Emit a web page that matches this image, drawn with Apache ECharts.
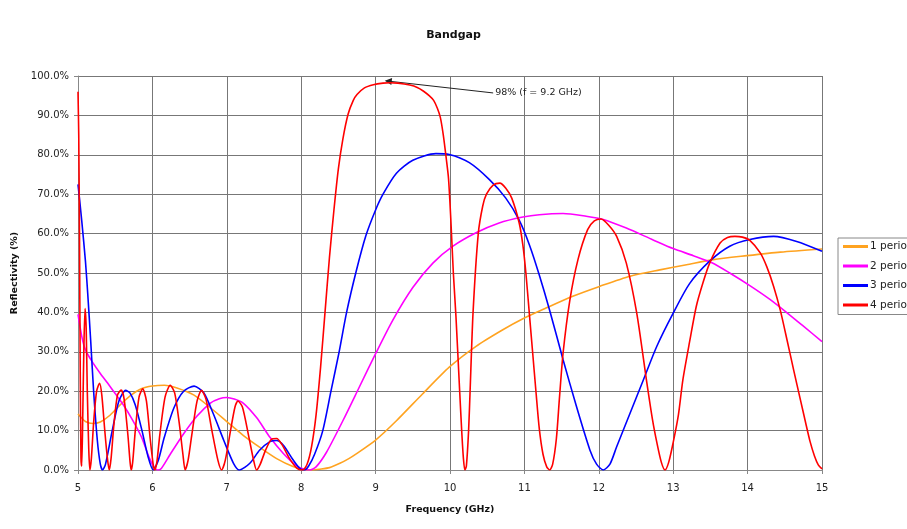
<!DOCTYPE html>
<html>
<head>
<meta charset="utf-8">
<script src="https://cdn.jsdelivr.net/npm/echarts@6/dist/echarts.min.js"></script>
<style>
html,body{margin:0;padding:0;background:#fff;}
#chart{width:907px;height:529px;}
</style>
</head>
<body>
<div id="chart"></div>
<script>
// ---- Data: [frequency GHz, reflectivity %] ----
const seriesNames = ['1 period', '2 periods', '3 periods', '4 periods'];

const period1 = [[5.00,14.2],[5.10,12.3],[5.20,11.8],[5.30,12.2],[5.43,13.9],[5.56,16.4],[5.70,18.8],[5.85,20.6],[6.00,21.3],[6.16,21.5],[6.33,20.8],[6.56,19.0],[6.78,15.8],[7.00,12.3],[7.22,8.8],[7.44,5.8],[7.67,2.9],[7.89,0.9],[8.05,0.1],[8.15,0.0],[8.25,0.2],[8.38,0.6],[8.52,1.7],[8.64,2.9],[8.74,4.1],[9.00,7.6],[9.28,12.5],[9.63,19.3],[9.99,26.1],[10.35,31.4],[10.71,35.6],[10.98,38.4],[11.29,41.1],[11.65,44.1],[12.01,46.6],[12.42,49.2],[12.82,50.8],[13.18,52.1],[13.54,53.4],[13.99,54.4],[14.44,55.3],[15.00,56.1]];

const period2 = [[5.00,39.5],[5.05,34.0],[5.10,30.5],[5.19,27.5],[5.30,24.5],[5.40,22.0],[5.50,19.4],[5.60,16.8],[5.73,12.8],[5.85,8.5],[5.96,3.0],[6.02,0.8],[6.07,0.0],[6.12,0.4],[6.24,4.0],[6.42,9.2],[6.60,13.7],[6.78,17.0],[6.90,18.1],[7.00,18.4],[7.10,18.0],[7.22,17.0],[7.40,13.3],[7.58,8.3],[7.76,4.2],[7.93,1.2],[8.05,0.1],[8.11,0.0],[8.20,0.8],[8.34,4.5],[8.56,12.5],[8.78,21.0],[9.01,29.9],[9.23,38.0],[9.50,46.3],[9.77,52.5],[10.04,56.8],[10.35,60.2],[10.66,62.7],[10.98,64.2],[11.20,64.8],[11.52,65.1],[11.83,64.4],[12.06,63.6],[12.37,61.4],[12.73,58.4],[13.00,56.2],[13.27,54.4],[13.52,52.6],[13.76,50.0],[14.03,46.8],[14.30,43.3],[14.53,39.9],[14.75,36.5],[15.00,32.6]];

const period3 = [[5.00,72.5],[5.05,63.3],[5.10,53.0],[5.13,45.0],[5.17,33.0],[5.21,20.0],[5.26,7.5],[5.30,1.5],[5.33,0.0],[5.37,1.5],[5.46,10.0],[5.55,17.5],[5.64,20.2],[5.70,19.5],[5.77,16.5],[5.86,10.0],[5.94,3.5],[6.01,0.0],[6.08,2.5],[6.16,8.3],[6.29,15.8],[6.42,20.0],[6.56,21.3],[6.69,19.6],[6.82,14.2],[6.96,7.5],[7.09,1.7],[7.17,0.0],[7.31,1.7],[7.44,5.0],[7.58,7.2],[7.67,7.5],[7.76,6.3],[7.89,2.6],[7.98,0.4],[8.04,0.0],[8.10,1.0],[8.18,4.0],[8.29,10.0],[8.40,20.0],[8.51,30.0],[8.61,40.0],[8.74,50.5],[8.87,59.5],[9.00,66.0],[9.10,70.0],[9.28,75.3],[9.50,78.6],[9.81,80.3],[9.99,80.1],[10.26,78.0],[10.53,73.7],[10.75,69.0],[10.93,63.4],[11.07,57.0],[11.20,49.5],[11.34,40.5],[11.52,28.0],[11.70,16.1],[11.88,5.1],[11.97,1.5],[12.06,0.0],[12.15,1.5],[12.24,5.9],[12.42,14.4],[12.60,22.9],[12.78,31.4],[13.00,39.8],[13.22,47.3],[13.49,53.0],[13.76,56.8],[14.03,58.5],[14.35,59.3],[14.66,58.0],[15.00,55.5]];

const period4 = [[5.000,96],[5.010,85],[5.020,60],[5.030,25],[5.040,3],[5.050,1],[5.065,15],[5.080,32],[5.095,41],[5.110,36],[5.125,20],[5.145,5],[5.160,0],[5.180,3],[5.210,12],[5.250,20],[5.290,22],[5.320,19],[5.360,10],[5.395,3],[5.420,0],[5.445,3],[5.480,11],[5.530,19],[5.580,20.3],[5.620,18],[5.670,9],[5.700,2],[5.715,0],[5.735,2],[5.770,10],[5.820,18.5],[5.870,20.6],[5.920,17.5],[5.970,8],[6.010,1.5],[6.030,0],[6.060,2],[6.100,9],[6.170,18.5],[6.240,21.5],[6.300,19.5],[6.360,12],[6.410,4],[6.440,0],[6.480,2.5],[6.530,9],[6.600,17.5],[6.660,20.2],[6.720,18],[6.800,10],[6.880,2.5],[6.930,0],[6.980,2.5],[7.050,10],[7.110,16],[7.150,17.5],[7.210,16],[7.290,9],[7.360,2.5],[7.400,0],[7.450,1.5],[7.520,5],[7.600,7.8],[7.670,8.0],[7.740,6.5],[7.840,3],[7.940,0.5],[8.020,0],[8.080,1.5],[8.140,6],[8.200,14],[8.260,26],[8.320,40],[8.380,54],[8.440,66],[8.500,76.5],[8.560,84],[8.630,90.3],[8.700,93.8],[8.750,95.3],[8.850,97],[8.970,97.8],[9.100,98.2],[9.190,98.3],[9.300,98.2],[9.460,97.7],[9.560,97.1],[9.640,96.2],[9.720,95],[9.780,93.8],[9.830,91.8],[9.870,89.5],[9.910,85],[9.950,79],[9.980,74],[10.010,64],[10.045,50],[10.080,39],[10.130,20],[10.160,9],[10.180,3],[10.200,0],[10.220,1],[10.250,10],[10.270,20],[10.310,40],[10.380,60],[10.440,67],[10.490,70],[10.580,72.3],[10.670,72.8],[10.750,71.5],[10.830,69],[10.930,62.7],[10.980,57],[11.020,50],[11.065,40],[11.110,30],[11.155,20],[11.200,10.5],[11.250,4],[11.300,0.8],[11.340,0],[11.380,1.5],[11.430,8],[11.470,18],[11.520,29.7],[11.610,43],[11.720,53.4],[11.850,61],[11.940,63.2],[12.030,63.7],[12.130,62.2],[12.240,59.3],[12.370,52.5],[12.510,39.8],[12.640,22.9],[12.720,13],[12.780,7],[12.840,2],[12.890,0],[12.940,2],[13.000,7],[13.070,14],[13.130,22.9],[13.220,32.5],[13.310,41.5],[13.400,47.5],[13.490,52.5],[13.630,57.6],[13.730,59],[13.830,59.3],[13.930,59.1],[14.030,58.3],[14.170,55.1],[14.260,51.5],[14.350,46.6],[14.440,40.5],[14.530,33],[14.620,25.3],[14.710,17.8],[14.780,12],[14.840,7.2],[14.900,3.5],[14.950,1.3],[15.000,0.3]];

const xRange = [5, 15];          // GHz
const yRange = [0, 100];         // %
const annotationText = '98% (f = 9.2 GHz)';
const annotationFrom = [10.58, 95.7];   // text anchor / arrow tail
const annotationTo = [9.17, 98.7];      // arrow head (peak of 4 periods)

// ---- Chart ----
const colors = ['#FFA320', '#FF00FF', '#0000FF', '#FF0000'];
const allData = [period1, period2, period3, period4];
const FONT = 'DejaVu Sans';

const chart = echarts.init(document.getElementById('chart'), null, {renderer: 'canvas'});

const series = allData.map((d, i) => ({
  name: seriesNames[i],
  type: 'line',
  data: d,
  showSymbol: false,
  symbol: 'none',
  smooth: 0.25,
  lineStyle: {color: colors[i], width: 1.6},
  itemStyle: {color: colors[i]},
  z: 2 + i,
  animation: false
}));

// annotation arrow drawn as its own helper series (no legend entry)
series.push({
  name: 'annotation',
  type: 'line',
  data: [],
  silent: true,
  z: 10,
  animation: false,
  markLine: {
    silent: true,
    symbol: ['none', 'triangle'],
    symbolSize: 7,
    symbolOffset: [0, 0],
    label: {show: false},
    lineStyle: {color: '#222', width: 1, type: 'solid'},
    itemStyle: {color: '#111'},
    data: [[{coord: annotationFrom}, {coord: annotationTo}]],
    animation: false
  },
  markPoint: {
    silent: true,
    symbol: 'circle',
    symbolSize: 0,
    data: [{coord: annotationFrom}],
    label: {
      show: true, position: 'right', distance: 2,
      formatter: annotationText,
      color: '#222', fontFamily: FONT, fontSize: 9.5
    },
    animation: false
  }
});

chart.setOption({
  backgroundColor: '#ffffff',
  animation: false,
  title: {
    text: 'Bandgap', left: 'center', top: 25,
    textStyle: {fontFamily: FONT, fontSize: 11, fontWeight: 'bold', color: '#111'}
  },
  legend: {
    orient: 'vertical', left: 838, top: 238,
    data: seriesNames,
    icon: 'rect', itemWidth: 25, itemHeight: 3, itemGap: 8.5,
    padding: [3, 5, 4, 5],
    borderColor: '#888', borderWidth: 1, backgroundColor: '#fff',
    textStyle: {fontFamily: FONT, fontSize: 10.5, color: '#222', lineHeight: 10, padding: [0, 0, 0, -3]}
  },
  grid: {left: 78, right: 85, top: 76, bottom: 59, containLabel: false},
  xAxis: {
    type: 'value', min: xRange[0], max: xRange[1], interval: 1,
    name: 'Frequency (GHz)', nameLocation: 'middle', nameGap: 35,
    nameTextStyle: {fontFamily: FONT, fontSize: 9.5, fontWeight: 'bold', color: '#111'},
    axisLine: {show: true, onZero: false, lineStyle: {color: '#888', width: 1}},
    axisTick: {show: true, length: 4, lineStyle: {color: '#888'}},
    axisLabel: {fontFamily: FONT, fontSize: 10, color: '#222', margin: 13},
    splitLine: {show: true, lineStyle: {color: '#777', width: 1}}
  },
  yAxis: {
    type: 'value', min: yRange[0], max: yRange[1], interval: 10,
    name: 'Reflectivity (%)', nameLocation: 'middle', nameGap: 52, nameRotate: 90,
    nameTextStyle: {fontFamily: FONT, fontSize: 9.5, fontWeight: 'bold', color: '#111'},
    axisLine: {show: true, lineStyle: {color: '#888', width: 1}},
    axisTick: {show: true, length: 4, lineStyle: {color: '#888'}},
    axisLabel: {fontFamily: FONT, fontSize: 10, color: '#222', margin: 9,
      formatter: v => v.toFixed(1) + '%'},
    splitLine: {show: true, lineStyle: {color: '#777', width: 1}}
  },
  series: series
});
</script>
</body>
</html>
